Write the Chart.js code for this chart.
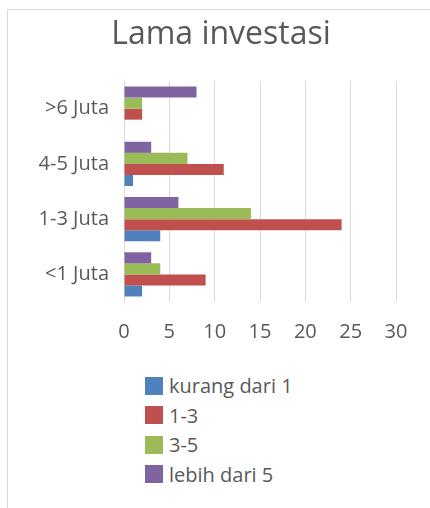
<!DOCTYPE html>
<html>
<head>
<meta charset="utf-8">
<script src="https://cdn.jsdelivr.net/npm/chart.js@4"></script>
<style>
    html, body { margin: 0; padding: 0; background: #ffffff; }
    body { width: 430px; height: 508px; position: relative; overflow: hidden; font-family: 'Open Sans', sans-serif; }
    #frame { position: absolute; left: 7px; top: 9px; right: 0; bottom: 0; border-left: 1px solid #d9d9d9; border-top: 1px solid #d9d9d9; }
    #chart { position: absolute; left: 0; top: 0; }
    #legend { position: absolute; left: 145px; top: 371px; }
    .legend-item { display: flex; align-items: center; height: 29.5px; color: #595959; font-size: 20px; }
    .legend-box { width: 18px; height: 18px; margin-right: 6px; }
</style>
</head>
<body>
<div id="frame"></div>
<canvas id="chart" width="430" height="350"></canvas>
<div id="legend"></div>
<script>
// Categories top to bottom as shown
const categories = ['>6 Juta', '4-5 Juta', '1-3 Juta', '<1 Juta'];

const seriesNames = ['kurang dari 1', '1-3', '3-5', 'lebih dari 5'];
const seriesColors = ['#4F81BD', '#C0504D', '#9BBB59', '#8064A2'];

const kurangDari1 = [0, 1, 4, 2];
const antara1dan3 = [2, 11, 24, 9];
const antara3dan5 = [2, 7, 14, 4];
const lebihDari5 = [8, 3, 6, 3];

const xTicks = [0, 5, 10, 15, 20, 25, 30];

const seriesValues = [kurangDari1, antara1dan3, antara3dan5, lebihDari5];

// first series sits at the bottom of each group, so feed datasets in reverse
const datasets = seriesNames.map(function(name, i) {
    return {
        label: name,
        data: seriesValues[i],
        backgroundColor: seriesColors[i],
        borderWidth: 0,
        categoryPercentage: 0.8,
        barPercentage: 1.0
    };
}).reverse();

const textColor = '#595959';

// Title is centred on the whole frame, not on the plot, so draw it ourselves
const frameTitle = {
    id: 'frameTitle',
    afterDraw(chart) {
        const c = chart.ctx;
        c.save();
        c.fillStyle = textColor;
        c.font = '32px "Open Sans"';
        c.textAlign = 'center';
        c.textBaseline = 'middle';
        c.fillText('Lama investasi', 221, 35);
        c.restore();
    }
};

const ctx = document.getElementById('chart').getContext('2d');
const chart = new Chart(ctx, {
    type: 'bar',
    data: {
        labels: categories,
        datasets: datasets
    },
    plugins: [frameTitle],
    options: {
        indexAxis: 'y',
        responsive: false,
        animation: false,
        layout: {
            padding: { left: 0, right: 34, top: 81, bottom: 0 }
        },
        plugins: {
            legend: { display: false },
            tooltip: { enabled: false },
            title: { display: false }
        },
        scales: {
            x: {
                min: 0,
                max: 30,
                afterBuildTicks: function(scale) {
                    scale.ticks = xTicks.map(v => ({ value: v }));
                },
                afterFit: function(scale) {
                    scale.height = 48;
                },
                grid: {
                    color: '#d9d9d9',
                    lineWidth: 1,
                    drawTicks: false
                },
                border: { display: false },
                ticks: {
                    color: textColor,
                    padding: 18,
                    font: { family: 'Open Sans', size: 20 }
                }
            },
            y: {
                afterFit: function(scale) {
                    scale.width = 124;
                },
                grid: { display: false, drawTicks: false },
                border: { display: false },
                ticks: {
                    color: textColor,
                    padding: 15,
                    font: { family: 'Open Sans', size: 20 }
                }
            }
        }
    }
});

// Legend, listed in series order
const legendEl = document.getElementById('legend');
legendEl.innerHTML = seriesNames.map(function(name, i) {
    return `<div class="legend-item"><span class="legend-box" style="background:${seriesColors[i]}"></span>${name}</div>`;
}).join('');
</script>
</body>
</html>
